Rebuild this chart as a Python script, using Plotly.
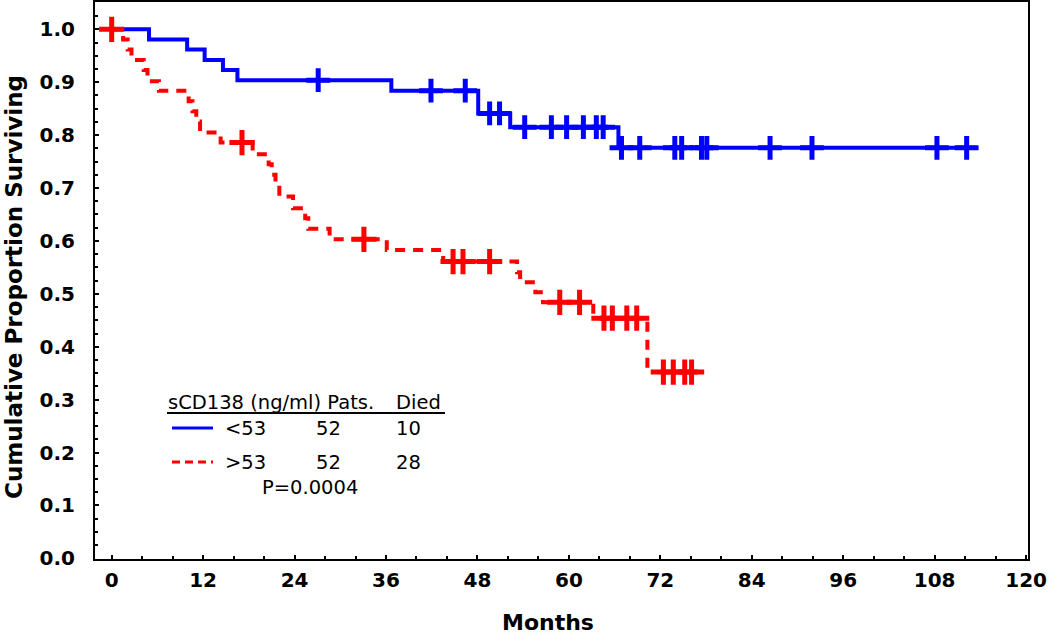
import plotly.graph_objects as go

# ---------------- data ----------------
low_times = [0, 4.9, 9.9, 12.2, 14.6, 16.5, 36.7, 48.1, 52.3, 66.5, 113.3]
low_surv = [1.0, 0.981, 0.962, 0.942, 0.923, 0.904, 0.884, 0.841, 0.815, 0.776, 0.776]
low_cens_t = [27.1, 41.9, 46.4, 49.6, 50.9, 54.2, 57.7, 59.7, 61.9, 63.6, 64.5,
              66.9, 69.3, 73.9, 74.8, 77.4, 78.1, 86.4, 91.9, 108.3, 112.2]
low_cens_s = [0.904, 0.884, 0.884, 0.841, 0.841, 0.815, 0.815, 0.815, 0.815, 0.815, 0.815,
              0.776, 0.776, 0.776, 0.776, 0.776, 0.776, 0.776, 0.776, 0.776, 0.776]

high_times = [0, 1.5, 2.1, 2.6, 4.2, 4.7, 6.2, 10.1, 10.6, 11.1, 11.6, 14.3, 18.5,
              20.6, 21.0, 21.5, 22.0, 23.8, 25.4, 25.8, 28.6, 36.1, 43.5,
              53.2, 53.6, 55.6, 56.6, 63.2, 70.3, 77.4]
high_surv = [1.0, 0.981, 0.962, 0.942, 0.923, 0.902, 0.884, 0.864, 0.845, 0.826, 0.805, 0.786, 0.764,
             0.745, 0.725, 0.705, 0.684, 0.662, 0.643, 0.623, 0.603, 0.583, 0.561,
             0.541, 0.522, 0.503, 0.484, 0.454, 0.352, 0.352]
high_cens_t = [0, 17.1, 33.1, 44.8, 46.1, 49.6, 58.8, 61.4, 64.6, 65.7, 67.6, 68.9,
               72.4, 73.7, 75.2, 76.1]
high_cens_s = [1.0, 0.786, 0.603, 0.561, 0.561, 0.561, 0.484, 0.484, 0.454, 0.454, 0.454, 0.454,
               0.352, 0.352, 0.352, 0.352]

x_ticks = [0, 12, 24, 36, 48, 60, 72, 84, 96, 108, 120]
y_ticks = [0.0, 0.1, 0.2, 0.3, 0.4, 0.5, 0.6, 0.7, 0.8, 0.9, 1.0]

legend_header = "sCD138 (ng/ml) Pats."
legend_died = "Died"
groups = ["<53", ">53"]
pats = ["52", "52"]
died = ["10", "28"]
p_text = "P=0.0004"

BLUE = "#0000FF"
RED = "#FF0000"

# ---------------- geometry helpers (pixel -> paper) ----------------
W, H = 1050, 636
L, R, T, B = 95, 1028, 2, 559


def px(x):
    return (x - L) / (R - L)


def py(y):
    return (B - y) / (B - T)


fig = go.Figure()

fig.add_trace(go.Scatter(x=low_times, y=low_surv, mode="lines", line_shape="hv",
                         line=dict(color=BLUE, width=4), showlegend=False, hoverinfo="skip"))
fig.add_trace(go.Scatter(x=high_times, y=high_surv, mode="lines", line_shape="hv",
                         line=dict(color=RED, width=4, dash="10px,8px"), showlegend=False,
                         hoverinfo="skip"))
fig.add_trace(go.Scatter(x=low_cens_t, y=low_cens_s, mode="markers",
                         marker=dict(symbol="cross-thin", size=17, line=dict(color=BLUE, width=5)),
                         showlegend=False, hoverinfo="skip"))
fig.add_trace(go.Scatter(x=high_cens_t, y=high_cens_s, mode="markers",
                         marker=dict(symbol="cross-thin", size=18, line=dict(color=RED, width=5)),
                         showlegend=False, hoverinfo="skip"))

tickfont = dict(family="DejaVu Sans", size=20, color="black", weight="bold")

fig.update_xaxes(range=[-2.19, 120.25], tickvals=x_ticks, ticktext=[str(v) for v in x_ticks],
                 ticks="inside", ticklen=4, tickwidth=2, tickcolor="black",
                 minor=dict(dtick=4, tick0=0, ticks="inside", ticklen=3, tickwidth=1.5, tickcolor="black"),
                 showline=True, linecolor="black", linewidth=2, mirror=True,
                 showgrid=False, zeroline=False, tickfont=tickfont, ticklabelstandoff=2,
                 automargin=False)
fig.update_yaxes(range=[-0.0013, 1.0517], tickvals=y_ticks, ticktext=[f"{v:.1f}" for v in y_ticks],
                 ticks="inside", ticklen=4, tickwidth=2, tickcolor="black",
                 minor=dict(dtick=0.025, tick0=0, ticks="inside", ticklen=3, tickwidth=1.5, tickcolor="black"),
                 showline=True, linecolor="black", linewidth=2, mirror=True,
                 showgrid=False, zeroline=False, tickfont=tickfont, ticklabelstandoff=14,
                 automargin=False)

annotations = []
shapes = []

# axis titles
annotations.append(dict(text="Months", x=px(548), y=py(622), xref="paper", yref="paper",
                        showarrow=False, xanchor="center", yanchor="middle",
                        font=dict(family="DejaVu Sans", size=22, color="black", weight="bold")))
annotations.append(dict(text="Cumulative Proportion Surviving", x=px(14), y=py(287),
                        xref="paper", yref="paper", showarrow=False, textangle=-90,
                        xanchor="center", yanchor="middle",
                        font=dict(family="DejaVu Sans", size=23, color="black", weight="bold")))

lf = dict(family="DejaVu Sans", size=19.5, color="black")
annotations.append(dict(text=legend_header, x=px(166), y=py(402), xref="paper", yref="paper",
                        showarrow=False, xanchor="left", yanchor="middle", font=lf))
annotations.append(dict(text=legend_died, x=px(394), y=py(402), xref="paper", yref="paper",
                        showarrow=False, xanchor="left", yanchor="middle", font=lf))
shapes.append(dict(type="line", xref="paper", yref="paper", x0=px(167), x1=px(445),
                   y0=py(413), y1=py(413), line=dict(color="black", width=2)))

row_y = [428, 462]
row_col = [BLUE, RED]
row_dash = ["solid", "8px,5px"]
for i in range(2):
    shapes.append(dict(type="line", xref="paper", yref="paper", x0=px(172), x1=px(213),
                       y0=py(row_y[i]), y1=py(row_y[i]),
                       line=dict(color=row_col[i], width=3, dash=row_dash[i])))
    annotations.append(dict(text=groups[i], x=px(223), y=py(row_y[i]), xref="paper", yref="paper",
                            showarrow=False, xanchor="left", yanchor="middle", font=lf))
    annotations.append(dict(text=pats[i], x=px(328), y=py(row_y[i]), xref="paper", yref="paper",
                            showarrow=False, xanchor="center", yanchor="middle", font=lf))
    annotations.append(dict(text=died[i], x=px(394), y=py(row_y[i]), xref="paper", yref="paper",
                            showarrow=False, xanchor="left", yanchor="middle", font=lf))
annotations.append(dict(text=p_text, x=px(310), y=py(487), xref="paper", yref="paper",
                        showarrow=False, xanchor="center", yanchor="middle", font=lf))

fig.update_layout(width=W, height=H, margin=dict(l=L, r=W - R, t=T, b=H - B),
                  paper_bgcolor="white", plot_bgcolor="white",
                  annotations=annotations, shapes=shapes, showlegend=False)

fig.write_html("out.html", config={"displayModeBar": False},
               post_script="document.body.style.margin='0';document.body.style.padding='0';"
                           "document.documentElement.style.overflow='hidden';")
